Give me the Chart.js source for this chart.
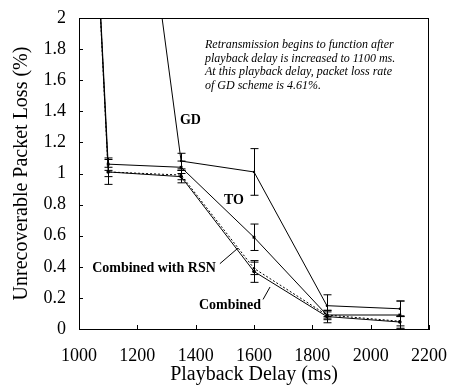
<!DOCTYPE html>
<html>
<head>
<meta charset="utf-8">
<script src="https://cdn.jsdelivr.net/npm/chart.js@4"></script>
<style>
  html, body { margin: 0; padding: 0; background: #fff; }
  #wrap { width: 450px; height: 386px; }
</style>
</head>
<body>
<div id="wrap"><canvas id="myChart" width="450" height="386"></canvas></div>
<script>
// playback delay (ms)
const delays = [1000, 1100, 1350, 1600, 1850, 2100];
const gdDelays = [1100, 1350, 1600, 1850, 2100];

// unrecoverable packet loss (%)
const gdLoss = [4.61, 1.08, 1.01, 0.15, 0.13];
const toLoss = [4.8, 1.06, 1.04, 0.59, 0.09, 0.09];
const combinedLoss = [4.8, 1.01, 0.98, 0.37, 0.08, 0.045];
const rsnLoss = [4.8, 1.01, 0.99, 0.39, 0.09, 0.05];

// half width of error bars
const gdErr = [0.05, 0.05, 0.15, 0.07, 0.05];
const toErr = [0, 0.04, 0.04, 0.085, 0.03, 0.09];
const combinedErr = [0, 0.08, 0.04, 0.07, 0.04, 0.04];
const rsnErr = [0, 0.03, 0.03, 0.04, 0.02, 0.03];

const xTicks = [1000, 1200, 1400, 1600, 1800, 2000, 2200];
const yTicks = [0, 0.2, 0.4, 0.6, 0.8, 1, 1.2, 1.4, 1.6, 1.8, 2];

const note = [
    'Retransmission begins to function after',
    'playback delay is increased to 1100 ms.',
    'At this playback delay, packet loss rate',
    'of GD scheme is 4.61%.'
];

// series labels: text, x, y (data units)
const seriesLabels = [
    ['GD', 1346, 1.34],
    ['TO', 1497, 0.83],
    ['Combined with RSN', 1045, 0.39],
    ['Combined', 1411, 0.15]
];
// leader lines: x1, y1, x2, y2 (data units)
const leaders = [
    [1483, 0.42, 1545, 0.52],
    [1631, 0.19, 1655, 0.27]
];

function pts(xs, ys){
    return ys.map((v, i) => ({x: xs[i], y: v}));
}

const serif = '"Liberation Serif", "Times New Roman", serif';

const errorBars = {
    id: 'errorBars',
    afterDatasetsDraw(chart){
        const ctx = chart.ctx;
        const xs = chart.scales.x, ys = chart.scales.y;
        const area = chart.chartArea;
        ctx.save();
        ctx.beginPath();
        ctx.rect(area.left, area.top, area.right - area.left, area.bottom - area.top);
        ctx.clip();
        ctx.strokeStyle = '#000';
        ctx.lineWidth = 1;
        chart.data.datasets.forEach(ds => {
            ds.data.forEach((p, i) => {
                const e = ds.err[i];
                if(!e) return;
                const px = Math.round(xs.getPixelForValue(p.x)) + 0.5;
                const top = ys.getPixelForValue(p.y + e);
                const bot = ys.getPixelForValue(Math.max(0, p.y - e));
                ctx.beginPath();
                ctx.moveTo(px, top); ctx.lineTo(px, bot);
                ctx.moveTo(px - 4, top); ctx.lineTo(px + 4, top);
                ctx.moveTo(px - 4, bot); ctx.lineTo(px + 4, bot);
                ctx.stroke();
            });
        });
        ctx.restore();

        // frame and inward ticks
        ctx.save();
        ctx.strokeStyle = '#000';
        ctx.lineWidth = 1;
        ctx.beginPath();
        ctx.moveTo(area.left, area.top + 0.5); ctx.lineTo(area.right, area.top + 0.5);
        ctx.moveTo(area.right - 0.5, area.top); ctx.lineTo(area.right - 0.5, area.bottom);
        xTicks.forEach(t => {
            const px = Math.round(xs.getPixelForValue(t)) + 0.5;
            ctx.moveTo(px, area.bottom); ctx.lineTo(px, area.bottom - 4);
        });
        yTicks.forEach(t => {
            const py = Math.round(ys.getPixelForValue(t)) + 0.5;
            ctx.moveTo(area.left, py); ctx.lineTo(area.left + 4, py);
        });
        leaders.forEach(l => {
            ctx.moveTo(xs.getPixelForValue(l[0]), ys.getPixelForValue(l[1]));
            ctx.lineTo(xs.getPixelForValue(l[2]), ys.getPixelForValue(l[3]));
        });
        ctx.stroke();

        ctx.fillStyle = '#000';
        ctx.textBaseline = 'middle';
        ctx.font = 'bold 14px ' + serif;
        seriesLabels.forEach(s => {
            ctx.fillText(s[0], xs.getPixelForValue(s[1]), ys.getPixelForValue(s[2]));
        });

        ctx.font = 'italic 12px ' + serif;
        note.forEach((line, i) => {
            ctx.fillText(line, area.left + 126, area.top + 27 + i * 13.5);
        });
        ctx.restore();
    }
};

const ctx = document.getElementById('myChart').getContext('2d');
new Chart(ctx, {
    type: 'line',
    data: {
        datasets: [
            {label: 'GD', data: pts(gdDelays, gdLoss), err: gdErr, pointStyle: 'circle', pointRadius: 1.2},
            {label: 'TO', data: pts(delays, toLoss), err: toErr, pointStyle: 'rect', pointRadius: 2},
            {label: 'Combined', data: pts(delays, combinedLoss), err: combinedErr, pointStyle: 'circle', pointRadius: 1.8},
            {label: 'Combined with RSN', data: pts(delays, rsnLoss), err: rsnErr, pointStyle: 'circle', pointRadius: 1.2, borderDash: [2, 2]}
        ].map(d => Object.assign({
            borderColor: '#000',
            backgroundColor: '#000',
            borderWidth: 1,
            pointBorderWidth: 0,
            tension: 0,
            fill: false
        }, d))
    },
    options: {
        responsive: false,
        animation: false,
        layout: {padding: {top: 18, right: 21, left: 0, bottom: 0}},
        plugins: {legend: {display: false}, tooltip: {enabled: false}},
        scales: {
            x: {
                type: 'linear',
                min: 1000,
                max: 2200,
                afterFit: s => { s.height = 57; s.paddingLeft = 0; s.paddingRight = 0; },
                afterBuildTicks: s => { s.ticks = xTicks.map(v => ({value: v})); },
                grid: {display: false, drawTicks: false},
                border: {color: '#000', width: 1},
                ticks: {color: '#000', padding: 16, font: {family: serif, size: 18}, callback: v => String(v)},
                title: {display: true, text: 'Playback Delay (ms)', color: '#000', padding: {top: 0, bottom: -1}, font: {family: serif, size: 20}}
            },
            y: {
                min: 0,
                max: 2,
                afterFit: s => { s.width = 79; s.paddingTop = 0; s.paddingBottom = 0; },
                afterBuildTicks: s => { s.ticks = yTicks.map(v => ({value: v})); },
                grid: {display: false, drawTicks: false},
                border: {color: '#000', width: 1},
                ticks: {color: '#000', padding: 13, font: {family: serif, size: 18}, callback: v => String(Math.round(v * 10) / 10)},
                title: {display: true, text: 'Unrecoverable Packet Loss (%)', color: '#000', padding: {top: 10, bottom: 0}, font: {family: serif, size: 20}}
            }
        }
    },
    plugins: [errorBars]
});
</script>
</body>
</html>
